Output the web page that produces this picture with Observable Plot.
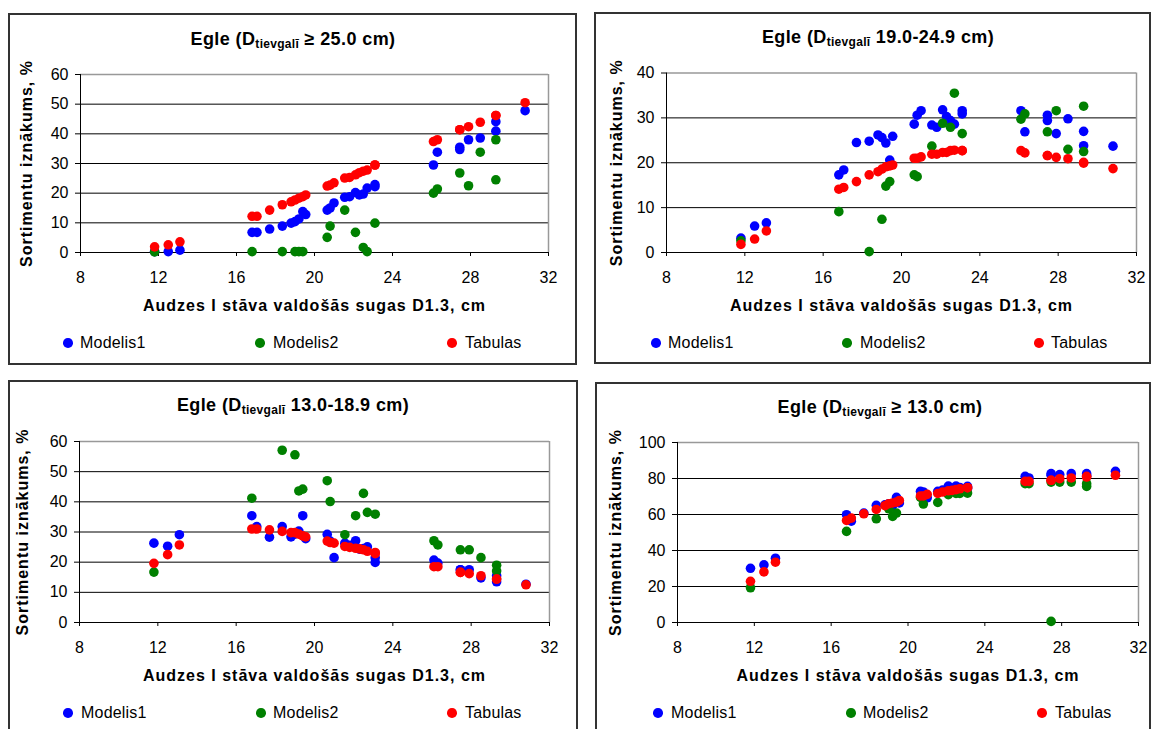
<!DOCTYPE html>
<html><head><meta charset="utf-8">
<script src="https://cdn.jsdelivr.net/npm/d3@7"></script>
<script src="https://cdn.jsdelivr.net/npm/@observablehq/plot@0.6"></script>
<style>
body{margin:0;background:#fff;width:1152px;height:729px;overflow:hidden;position:relative;font-family:"Liberation Sans",Arial,sans-serif;color:#000;}
.panel{position:absolute;border:2px solid #333;box-sizing:border-box;}
.plotbox{position:absolute;}
.title{position:absolute;font-weight:bold;font-size:18px;line-height:18px;white-space:nowrap;transform:translateX(-50%);letter-spacing:0.4px;}
.title .sb{font-size:12px;position:relative;top:3px;letter-spacing:0.3px;}
.legtxt{position:absolute;font-size:16px;line-height:16px;white-space:nowrap;letter-spacing:0.2px;}
.legdot{position:absolute;width:9.6px;height:9.6px;border-radius:50%;}
</style></head><body>
<script>
// Stand mean diameters D1.3 (cm)
const diam = [11.8, 12.5, 13.1, 16.8, 17.05, 17.7, 18.35, 18.8, 19.0, 19.2, 19.4, 19.55, 20.65, 20.8, 21.0, 21.55, 21.8, 22.1, 22.3, 22.5, 22.7, 23.1, 23.1, 26.1, 26.3, 27.45, 27.45, 27.9, 28.5, 29.3, 29.3, 30.8];

// Panel 1: Dtievgalī >= 25.0 cm
const p25_modelis1 = [0.3, 0.3, 0.8, 6.8, 6.8, 7.9, 8.9, 9.9, 10.4, 11.3, 13.8, 12.8, 14.3, 15.0, 16.7, 18.6, 18.8, 20.2, 19.4, 19.7, 21.7, 22.9, 22.2, 29.5, 33.8, 35.5, 34.7, 38.0, 38.6, 44.1, 40.9, 47.8];
const p25_modelis2 = [0.2, null, null, 0.3, null, null, 0.3, null, 0.3, 0.3, 0.3, null, 5.1, 8.9, null, 14.3, null, 6.8, null, 1.7, 0.3, 9.9, null, 20.0, 21.4, 26.8, null, 22.5, 33.8, 38.0, 24.5, null];
const p25_tabulas = [1.9, 2.6, 3.6, 12.2, 12.2, 14.3, 16.1, 17.1, 17.7, 18.3, 18.8, 19.4, 22.4, 22.7, 23.5, 25.1, 25.3, 26.2, 26.9, 27.4, 27.8, 29.5, 29.5, 37.4, 38.0, 41.4, 41.4, 42.4, 43.9, 46.2, 46.2, 50.5];

// Panel 2: Dtievgalī 19.0-24.9 cm
const p19_modelis1 = [3.2, 5.9, 6.6, 17.3, 18.4, 24.5, 24.8, 26.2, 25.6, 24.4, 20.6, 25.9, 28.6, 30.6, 31.6, 28.4, 27.9, 31.8, 30.3, 29.4, 28.6, 31.6, 30.9, 31.6, 26.9, 30.6, 29.4, 26.5, 29.8, 23.8, 27.0, 23.7];
const p19_modelis2 = [2.6, null, null, 9.1, null, null, 0.2, null, 7.4, 14.8, 15.8, null, 17.3, 16.9, null, 23.7, null, 28.8, null, 27.9, 35.5, 26.5, null, 29.7, 30.9, 26.9, null, 31.6, 23.0, 22.5, 32.6, null];
const p19_tabulas = [1.8, 3.0, 4.8, 14.1, 14.5, 15.8, 17.3, 18.0, 18.6, 19.1, 19.3, 19.5, 21.0, 21.0, 21.3, 21.9, 21.9, 22.3, 22.3, 22.7, 22.8, 22.7, 22.7, 22.7, 22.2, 21.6, 21.6, 21.2, 20.9, 20.1, 19.9, 18.7];

// Panel 3: Dtievgalī 13.0-18.9 cm
const p13_modelis1 = [26.3, 25.3, 29.1, 35.4, 31.8, 28.3, 31.8, 28.4, 29.3, 30.3, 35.4, 27.8, 29.2, 27.0, 21.5, 26.3, 25.6, 27.1, 24.3, 24.5, 25.1, 21.5, 19.9, 20.7, 19.7, 17.5, 17.5, 17.5, 14.8, 13.5, 15.5, 12.7];
const p13_modelis2 = [16.7, null, null, 41.2, null, null, 57.1, null, 55.6, 43.6, 44.2, null, 47.0, 40.1, null, 29.1, null, 35.4, null, 42.8, 36.5, 35.9, null, 27.1, 25.7, 24.1, null, 24.1, 21.5, 17.1, 19.0, null];
const p13_tabulas = [19.6, 22.5, 25.7, 31.0, 31.0, 30.7, 30.2, 29.8, 29.8, 29.3, 28.7, 28.4, 27.0, 26.5, 26.3, 25.2, 24.9, 24.6, 24.4, 24.1, 23.6, 23.2, 22.8, 18.5, 18.5, 16.6, 16.6, 16.2, 15.5, 14.4, 14.4, 12.5];

// Panel 4: Dtievgalī >= 13.0 cm
const pAll_modelis1 = [30.1, 32.0, 35.7, 59.9, 56.3, 60.8, 65.1, 65.4, 66.0, 65.0, 69.5, 66.4, 72.9, 72.5, 69.3, 72.9, 73.6, 75.8, 74.5, 75.8, 75.0, 75.6, 74.5, 81.2, 80.3, 82.7, 81.8, 82.2, 82.7, 82.7, 81.5, 84.0];
const pAll_modelis2 = [19.3, null, null, 50.6, null, null, 57.6, null, 63.2, 58.9, 60.8, null, 69.5, 65.8, null, 66.7, null, 71.0, null, 71.7, 71.7, 71.9, null, 77.1, 77.1, 78.0, 0.6, 78.0, 78.0, 77.1, 75.6, null];
const pAll_tabulas = [22.9, 28.1, 33.5, 56.7, 58.0, 60.4, 62.8, 64.9, 66.0, 66.4, 66.9, 67.8, 70.3, 70.3, 71.2, 71.7, 72.5, 73.2, 73.4, 73.8, 74.3, 74.9, 74.9, 78.4, 78.4, 79.0, 79.0, 79.9, 80.3, 81.2, 80.8, 81.8];

const seriesNames = ["Modelis1", "Modelis2", "Tabulas"];
const seriesColors = ["#0000FF", "#008000", "#FF0000"];
const xTicks = [8, 12, 16, 20, 24, 28, 32];
const xLabel = "Audzes I stāva valdošās sugas D1.3, cm";
const yLabel = "Sortimentu iznākums, %";
const titleMain = "Egle (D";
const titleSub = "tievgalī";
const titleRanges = [" ≥ 25.0 cm)", " 19.0-24.9 cm)", " 13.0-18.9 cm)", " ≥ 13.0 cm)"];
const yMaxes = [60, 40, 60, 100];
const yTicksList = [[0,10,20,30,40,50,60],[0,10,20,30,40],[0,10,20,30,40,50,60],[0,20,40,60,80,100]];

const panelData = [
  [p25_modelis1, p25_modelis2, p25_tabulas],
  [p19_modelis1, p19_modelis2, p19_tabulas],
  [p13_modelis1, p13_modelis2, p13_tabulas],
  [pAll_modelis1, pAll_modelis2, pAll_tabulas]
];

// layout (page pixels)
const layout = [
  {box:{l:8,t:13,r:577,b:365}, plot:{l:80,r:548,t:74,b:252}, titleX:293, titleY:39, yLabX:26, xLabY:310, legY:343, legDot:[68,260,452], legTxt:[80,273,465]},
  {box:{l:594,t:12,r:1151,b:364}, plot:{l:666,r:1136,t:72.5,b:252}, titleX:878, titleY:37, yLabX:616, xLabY:310, legY:343, legDot:[656,847,1039], legTxt:[668,860,1051]},
  {box:{l:8,t:380,r:578,b:740}, plot:{l:79,r:549,t:441,b:622}, titleX:293, titleY:405, yLabX:22, xLabY:680, legY:713, legDot:[68,261,452], legTxt:[81,273,465]},
  {box:{l:595,t:382,r:1151,b:740}, plot:{l:677,r:1138,t:442,b:622}, titleX:880, titleY:407, yLabX:615, xLabY:680, legY:713, legDot:[658,851,1042], legTxt:[671,863,1055]}
];

layout.forEach((L, pi) => {
  const b = L.box, p = L.plot;
  const panel = document.createElement("div");
  panel.className = "panel";
  Object.assign(panel.style, {left:b.l+"px", top:b.t+"px", width:(b.r-b.l)+"px", height:(b.b-b.t)+"px"});
  document.body.appendChild(panel);

  const ymax = yMaxes[pi];
  const yt = yTicksList[pi];
  const series = panelData[pi].map((arr, si) =>
    diam.map((x, i) => ({x, y: arr[i], s: seriesNames[si]})).filter(d => d.y != null));

  const chart = Plot.plot({
    width: b.r - b.l,
    height: b.b - b.t,
    marginLeft: p.l - b.l,
    marginRight: b.r - p.r,
    marginTop: p.t - b.t,
    marginBottom: b.b - p.b,
    style: {fontFamily: '"Liberation Sans", Arial, sans-serif', fontSize: "16px", background: "transparent", overflow: "visible", color: "#000"},
    x: {domain: [8, 32], ticks: xTicks, tickSize: 4, tickPadding: 15, tickFormat: d => String(d), label: null},
    y: {domain: [0, ymax], ticks: yt, tickSize: 5, tickPadding: 7, tickFormat: d => String(d), label: null},
    marks: [
      Plot.ruleY(yt.filter(v => v > 0 && v < ymax), {stroke: "#000", strokeWidth: 1}),
      Plot.ruleY([ymax], {stroke: "#999", strokeWidth: 1.5}),
      Plot.ruleX([32], {stroke: "#999", strokeWidth: 1.5}),
      Plot.ruleX([8], {stroke: "#000", strokeWidth: 1}),
      Plot.ruleY([0], {stroke: "#000", strokeWidth: 1}),
      ...series.map((rows, si) => Plot.dot(rows, {x: "x", y: "y", r: 4.8, fill: seriesColors[si], stroke: "none"})),
      Plot.text([xLabel], {text: d => d, frameAnchor: "bottom", textAnchor: "middle", dy: L.xLabY - p.b, fontWeight: "bold", fontSize: 16}),
      Plot.text([yLabel], {text: d => d, frameAnchor: "left", textAnchor: "middle", dx: L.yLabX - p.l, rotate: -90, fontWeight: "bold", fontSize: 16})
    ]
  });
  const wrap = document.createElement("div");
  wrap.className = "plotbox";
  Object.assign(wrap.style, {left: b.l+"px", top: b.t+"px"});
  wrap.appendChild(chart);
  document.body.appendChild(wrap);
  d3.select(chart).selectAll('g[aria-label="text"] text').attr("letter-spacing", "1px");

  // title
  const t = document.createElement("div");
  t.className = "title";
  t.style.left = L.titleX + "px";
  t.style.top = (L.titleY - 9) + "px";
  t.innerHTML = titleMain + '<span class="sb">' + titleSub + '</span>' + titleRanges[pi];
  document.body.appendChild(t);

  // legend
  seriesNames.forEach((name, si) => {
    const dot = document.createElement("div");
    dot.className = "legdot";
    Object.assign(dot.style, {left:(L.legDot[si]-4.8)+"px", top:(L.legY-4.8)+"px", background: seriesColors[si]});
    document.body.appendChild(dot);
    const tx = document.createElement("div");
    tx.className = "legtxt";
    Object.assign(tx.style, {left: L.legTxt[si]+"px", top:(L.legY-8)+"px"});
    tx.textContent = name;
    document.body.appendChild(tx);
  });
});
</script>
</body></html>
